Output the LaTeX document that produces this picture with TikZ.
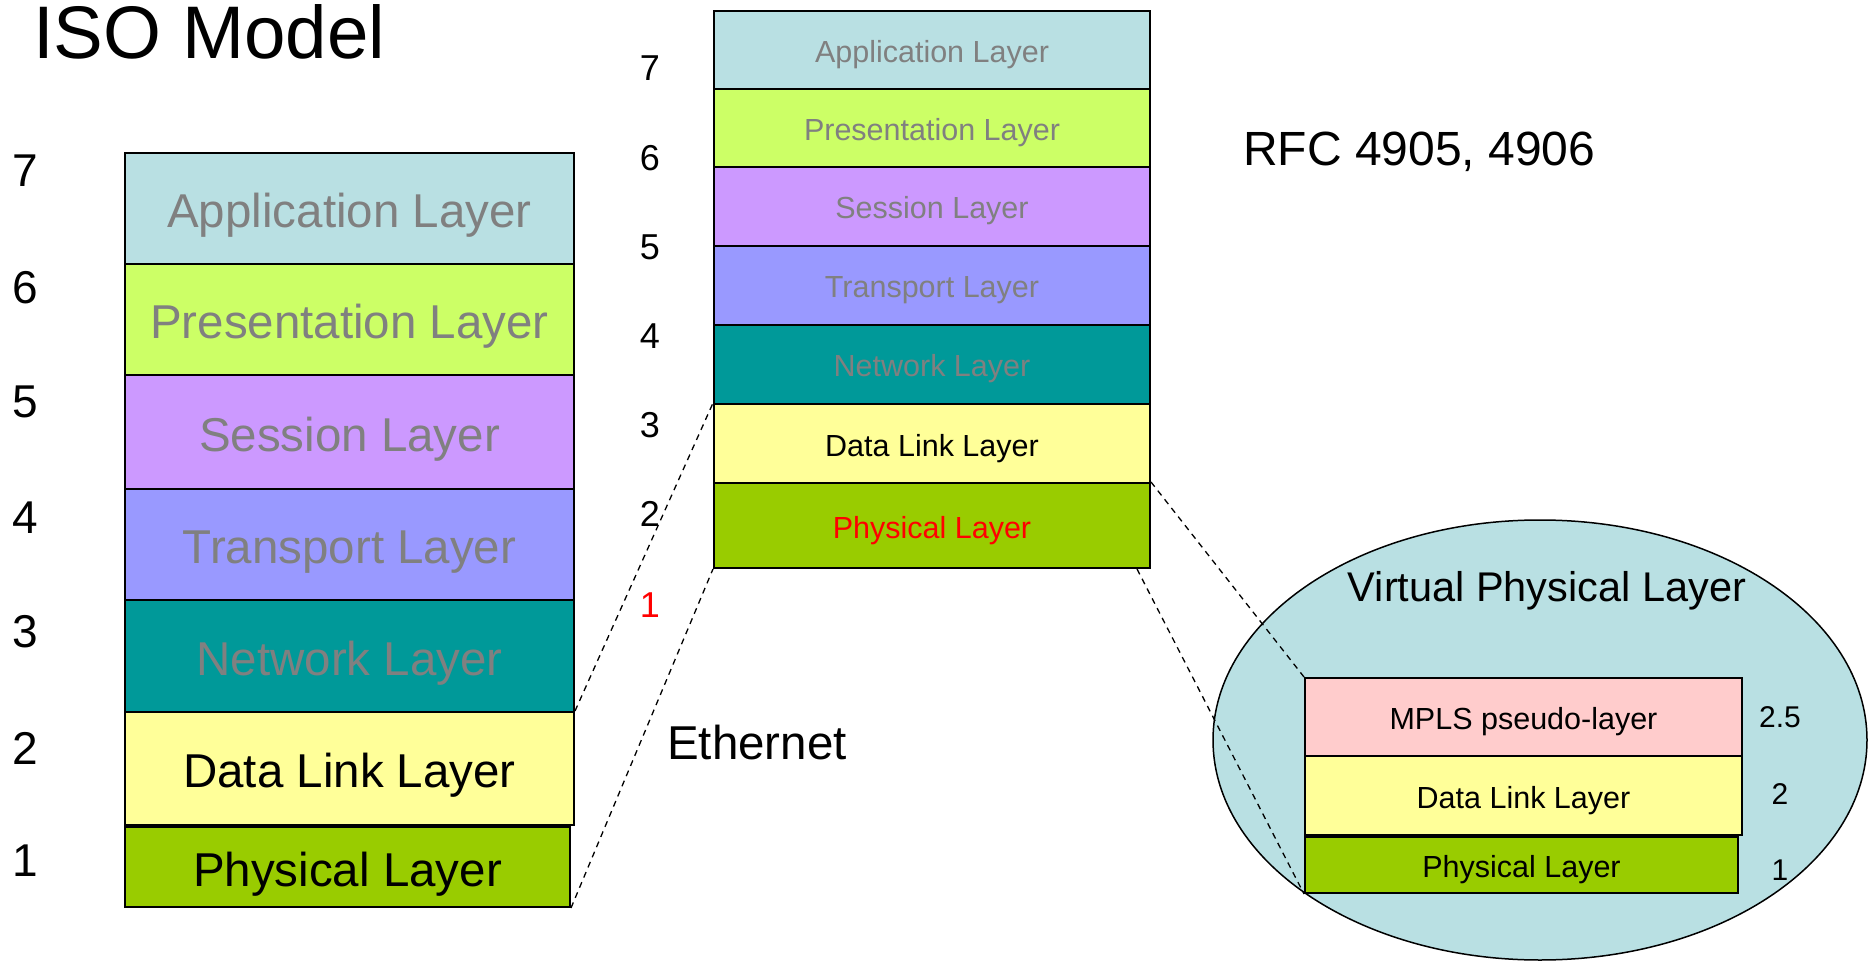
\documentclass[tikz,border=0pt]{standalone}
\usepackage{fontspec}
\setmainfont{Liberation Sans}
\usetikzlibrary{calc,shapes.geometric}
\definecolor{appc}{RGB}{185,224,227}
\definecolor{presc}{RGB}{204,255,102}
\definecolor{sessc}{RGB}{204,153,255}
\definecolor{transc}{RGB}{153,153,255}
\definecolor{netc}{RGB}{0,153,153}
\definecolor{dlc}{RGB}{255,255,153}
\definecolor{physc}{RGB}{153,204,0}
\definecolor{mplsc}{RGB}{255,204,204}
\definecolor{graytxt}{RGB}{128,128,128}
\begin{document}
\begin{tikzpicture}[x=1pt,y=-1pt,
  layerbox/.style={draw=black,line width=2pt,inner sep=0pt,anchor=north west},
  bigtxt/.style={font=\fontsize{47.5}{50}\selectfont,text height=40pt,text depth=1.5pt},
  midtxt/.style={font=\fontsize{30.5}{33}\selectfont,text height=26pt,text depth=1pt},
  numbig/.style={font=\fontsize{46}{50}\selectfont,inner sep=0pt},
  nummid/.style={font=\fontsize{36}{40}\selectfont,inner sep=0pt},
  numin/.style={font=\fontsize{30}{34}\selectfont,inner sep=0pt},
  dashline/.style={draw=black,line width=1.3pt,dash pattern=on 6pt off 5pt}]
\useasboundingbox (0,0) rectangle (1876,965);
\fill[white] (0,0) rectangle (1876,965);

% title
\node[font=\fontsize{74.5}{78}\selectfont,anchor=west,inner sep=0pt] (title) at (33,32) {ISO Model};

% left stack
\node[layerbox,bigtxt,fill=appc,text=graytxt,minimum width=449,minimum height=111] (lapp) at (124,152) {Application Layer};
\node[layerbox,bigtxt,fill=presc,text=graytxt,minimum width=449,minimum height=111] (lpres) at (124,263) {Presentation Layer};
\node[layerbox,bigtxt,fill=sessc,text=graytxt,minimum width=449,minimum height=114] (lsess) at (124,374) {Session Layer};
\node[layerbox,bigtxt,fill=transc,text=graytxt,minimum width=449,minimum height=111] (ltrans) at (124,488) {Transport Layer};
\node[layerbox,bigtxt,fill=netc,text=graytxt,minimum width=449,minimum height=112] (lnet) at (124,599) {Network Layer};
\node[layerbox,bigtxt,fill=dlc,minimum width=449,minimum height=113] (ldl) at (124,711) {Data Link Layer};
\node[layerbox,bigtxt,fill=physc,minimum width=445,minimum height=80] (lphys) at (124,826) {Physical Layer};

% left numbers
\node[numbig] (ln7) at (25,171) {7};
\node[numbig] (ln6) at (25,288) {6};
\node[numbig] (ln5) at (25,402) {5};
\node[numbig] (ln4) at (25,518) {4};
\node[numbig] (ln3) at (25,632) {3};
\node[numbig] (ln2) at (25,748) {2};
\node[numbig] (ln1) at (25,861) {1};

% middle stack
\node[layerbox,midtxt,fill=appc,text=graytxt,minimum width=436,minimum height=78] (mapp) at (713,10) {Application Layer};
\node[layerbox,midtxt,fill=presc,text=graytxt,minimum width=436,minimum height=78] (mpres) at (713,88) {Presentation Layer};
\node[layerbox,midtxt,fill=sessc,text=graytxt,minimum width=436,minimum height=79] (msess) at (713,166) {Session Layer};
\node[layerbox,midtxt,fill=transc,text=graytxt,minimum width=436,minimum height=79] (mtrans) at (713,245) {Transport Layer};
\node[layerbox,midtxt,fill=netc,text=graytxt,minimum width=436,minimum height=79] (mnet) at (713,324) {Network Layer};
\node[layerbox,midtxt,fill=dlc,minimum width=436,minimum height=79] (mdl) at (713,403) {Data Link Layer};
\node[layerbox,midtxt,fill=physc,text=red,minimum width=436,minimum height=85] (mphys) at (713,482) {Physical Layer};

% middle numbers
\node[nummid] (mn7) at (650,68) {7};
\node[nummid] (mn6) at (650,158) {6};
\node[nummid] (mn5) at (650,247) {5};
\node[nummid] (mn4) at (650,336) {4};
\node[nummid] (mn3) at (650,425) {3};
\node[nummid] (mn2) at (650,514) {2};
\node[nummid,text=red] (mn1) at (650,605) {1};

% free labels
\node[font=\fontsize{48}{52}\selectfont,anchor=west,inner sep=0pt] (rfc) at (1243,152) {RFC 4905, 4906};
\node[font=\fontsize{47.5}{50}\selectfont,anchor=west,inner sep=0pt] (eth) at (667,743) {Ethernet};

% ellipse
\node[draw=black,line width=1.5pt,fill=appc,ellipse,minimum width=654,minimum height=440,inner sep=0pt] (vell) at (1540,740) {};
\node[font=\fontsize{41.5}{45}\selectfont,inner sep=0pt] (vtitle) at (1547,591) {Virtual Physical Layer};

% inner stack
\node[layerbox,midtxt,fill=mplsc,minimum width=437,minimum height=78] (impls) at (1304,677) {MPLS pseudo-layer};
\node[layerbox,midtxt,fill=dlc,minimum width=437,minimum height=79] (idl) at (1304,755) {Data Link Layer};
\node[layerbox,midtxt,fill=physc,minimum width=433,minimum height=56] (iphys) at (1304,836) {Physical Layer};

\node[numin] (in25) at (1780,717) {2.5};
\node[numin] (in2) at (1780,794) {2};
\node[numin] (in1) at (1780,870) {1};

% dashed connectors
\coordinate (mphysfoot) at ($(mphys.south east)+(-14,0)$);
\draw[dashline] (ldl.north east) -- (mdl.north west);
\draw[dashline] (lphys.south east) -- (mphys.south west);
\draw[dashline] (mphys.north east) -- (impls.north west);
\draw[dashline] (mphysfoot) -- (iphys.south west);
\end{tikzpicture}
\end{document}
